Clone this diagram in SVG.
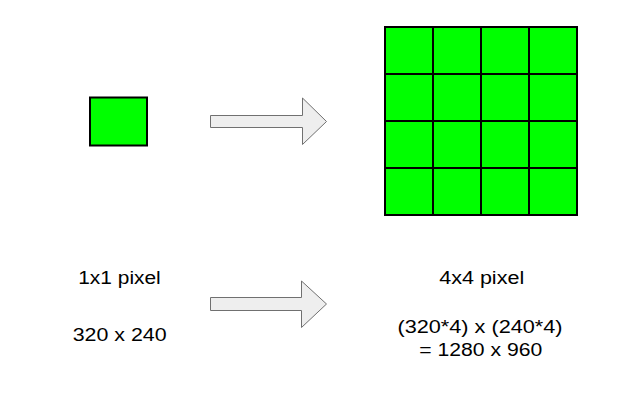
<svg xmlns="http://www.w3.org/2000/svg" width="624" height="406" viewBox="0 0 624 406">
<style>
.px{fill:#00ff00;stroke:#000;stroke-width:2}
.arr{fill:#eeeeee;stroke:#707070;stroke-width:1}
.t{font-family:"Liberation Sans",Arial,sans-serif;font-size:18px;fill:#000;text-anchor:middle}
</style>
<rect width="624" height="406" fill="#fff"/>
<g id="pixel1">
<rect class="px" x="90" y="97.5" width="57" height="48"/>
</g>
<g id="pixel4">
<rect class="px" x="385" y="27" width="48" height="47"/>
<rect class="px" x="433" y="27" width="48" height="47"/>
<rect class="px" x="481" y="27" width="48" height="47"/>
<rect class="px" x="529" y="27" width="48" height="47"/>
<rect class="px" x="385" y="74" width="48" height="47"/>
<rect class="px" x="433" y="74" width="48" height="47"/>
<rect class="px" x="481" y="74" width="48" height="47"/>
<rect class="px" x="529" y="74" width="48" height="47"/>
<rect class="px" x="385" y="121" width="48" height="47"/>
<rect class="px" x="433" y="121" width="48" height="47"/>
<rect class="px" x="481" y="121" width="48" height="47"/>
<rect class="px" x="529" y="121" width="48" height="47"/>
<rect class="px" x="385" y="168" width="48" height="47"/>
<rect class="px" x="433" y="168" width="48" height="47"/>
<rect class="px" x="481" y="168" width="48" height="47"/>
<rect class="px" x="529" y="168" width="48" height="47"/>
</g>
<g id="connectors">
<path class="arr" d="M210.5,115.5 H302.5 V98 L326.5,121.5 L302.5,144.5 V127.5 H210.5 Z"/>
<path class="arr" d="M210.5,297.5 H301.5 V281 L326.5,304 L301.5,327.5 V310.5 H210.5 Z"/>
</g>
<g id="label1">
<text class="t" x="119.5" y="284" textLength="82.5" lengthAdjust="spacingAndGlyphs">1x1 pixel</text>
<text class="t" x="119.7" y="341.3" textLength="94" lengthAdjust="spacingAndGlyphs">320 x 240</text>
</g>
<g id="label4">
<text class="t" x="481.7" y="284" textLength="85" lengthAdjust="spacingAndGlyphs">4x4 pixel</text>
<text class="t" x="480" y="332.7" textLength="165" lengthAdjust="spacingAndGlyphs">(320*4) x (240*4)</text>
<text class="t" x="480.8" y="356.3" textLength="123" lengthAdjust="spacingAndGlyphs">= 1280 x 960</text>
</g>
</svg>
